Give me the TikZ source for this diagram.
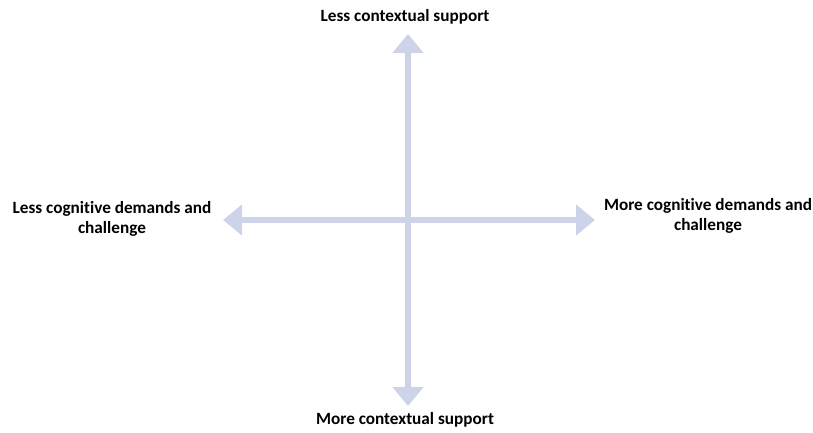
\documentclass[tikz,border=0pt]{standalone}
\usepackage{fontspec}
\setmainfont{Carlito}[RawFeature={-liga}]
\usetikzlibrary{arrows.meta}
\definecolor{axiscol}{HTML}{CDD4EA}
\begin{document}
\begin{tikzpicture}[x=1pt,y=-1pt,
  axis/.style={draw=axiscol,line width=6pt,{Triangle[width=30pt,length=19pt]}-{Triangle[width=30pt,length=19pt]}},
  lbl/.style={font=\bfseries\fontsize{17.2}{20}\selectfont,align=center,inner sep=0pt}]
\useasboundingbox (0,0) rectangle (813,433);
\coordinate (top) at (408,34);
\coordinate (bot) at (408,406);
\coordinate (left) at (223,220);
\coordinate (right) at (595,220);
\draw[axis] (top) -- (bot);
\draw[axis] (left) -- (right);
\node[lbl] (tl) at (405,17) {Less contextual support};
\node[lbl] (bl) at (405,420) {More contextual support};
\node[lbl] (ll) at (112,219) {Less cognitive demands and\\challenge};
\node[lbl] (rl) at (708,216) {More cognitive demands and\\challenge};
\end{tikzpicture}
\end{document}
